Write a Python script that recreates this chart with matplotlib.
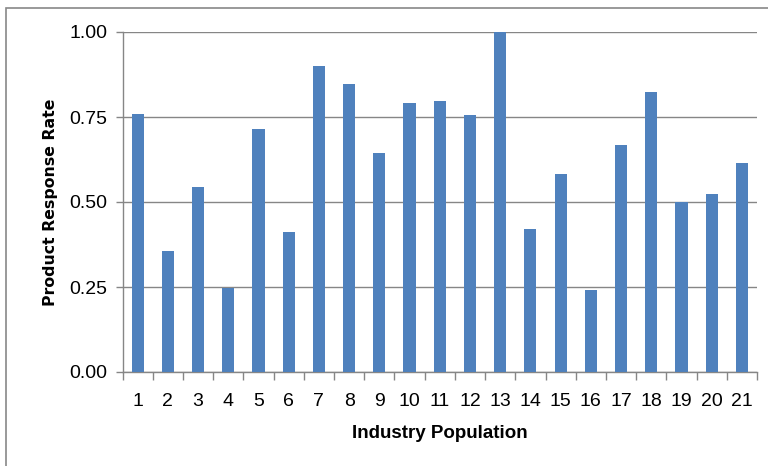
import matplotlib
matplotlib.use("Agg")
import matplotlib.pyplot as plt
from matplotlib.patches import Rectangle
import numpy as np

# response rate per industry population
populations = [str(i) for i in range(1, 22)]
response_rate = [0.759, 0.355, 0.543, 0.248, 0.714, 0.413, 0.899, 0.846, 0.644,
                 0.792, 0.796, 0.756, 1.00, 0.421, 0.581, 0.240, 0.668, 0.823,
                 0.501, 0.523, 0.616]
yticks = [0.00, 0.25, 0.50, 0.75, 1.00]

plt.rcParams['font.family'] = ['Liberation Sans Narrow', 'Liberation Sans', 'DejaVu Sans']

fig = plt.figure(figsize=(7.68, 4.66), dpi=100)
ax = fig.add_axes([122.5 / 768, 1 - 372 / 466, (757 - 122.5) / 768, (372 - 32) / 466])

grid_c = '#868686'
x = np.arange(len(populations))
ax.bar(x, response_rate, width=0.4, color='#4F81BD', zorder=3)

ax.set_xlim(-0.5, len(populations) - 0.5)
ax.set_ylim(0, 1.0)
ax.set_yticks(yticks)
ax.set_yticklabels([f"{v:.2f}" for v in yticks], fontsize=14)
ax.yaxis.grid(True, color=grid_c, linewidth=1.0, zorder=0)

# category labels centred, tick marks between categories
ax.set_xticks(x)
ax.set_xticklabels(populations, fontsize=14)
ax.tick_params(axis='x', length=0, pad=15)
ax.set_xticks(np.arange(-0.5, len(populations)), minor=True)
ax.tick_params(axis='x', which='minor', length=6, color=grid_c, width=1)
ax.tick_params(axis='y', length=5, color=grid_c, width=1, pad=6)

for side in ('top', 'right'):
    ax.spines[side].set_visible(False)
for side in ('left', 'bottom'):
    ax.spines[side].set_color(grid_c)
    ax.spines[side].set_linewidth(1.0)

ax.set_xlabel('Industry Population', fontsize=13.5, fontweight='bold',
              family=['Liberation Sans Narrow', 'Liberation Sans'], labelpad=11)
ax.set_ylabel('Product Response Rate', fontsize=11.3, fontweight='bold',
              family='DejaVu Sans', labelpad=8)

# chart border
fig.patches.append(Rectangle((6 / 768, -0.1), 1.2, 1 - 8 / 466 + 0.1,
                             transform=fig.transFigure, fill=False,
                             edgecolor='#888888', linewidth=1.2))

fig.savefig('out.png', dpi=100)
